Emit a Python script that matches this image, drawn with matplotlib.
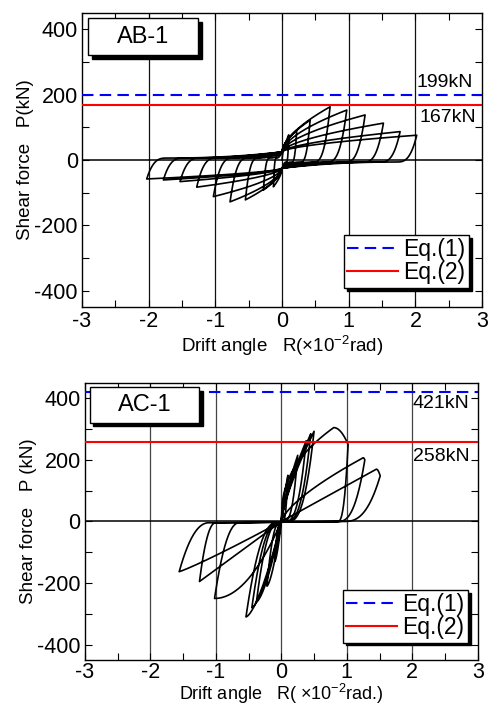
import numpy as np
import matplotlib
matplotlib.use('Agg')
import matplotlib.pyplot as plt
from matplotlib.patches import Rectangle

plt.rcParams['font.family'] = ['Liberation Sans', 'DejaVu Sans']
plt.rcParams['mathtext.fontset'] = 'custom'
plt.rcParams['mathtext.rm'] = 'Liberation Sans'
plt.rcParams['mathtext.it'] = 'Liberation Sans:italic'
plt.rcParams['axes.unicode_minus'] = False

# ---- AB-1 : cycle peaks (drift in 1e-2 rad, force in kN) ----
ab_pos_x = [0.10, 0.22, 0.42, 0.72, 0.97, 1.245, 1.52, 1.77, 2.02]
ab_pos_y = [77, 92, 122, 163, 153, 138, 113, 87, 76]
ab_neg_x = [-0.13, -0.28, -0.55, -0.78, -1.03, -1.28, -1.53, -1.78, -2.03]
ab_neg_y = [-82, -92, -122, -128, -112, -83, -66, -61, -58]
ab_cross = 25          # force where the loops cross R = 0
ab_eq = [199, 167]     # Eq.(1), Eq.(2)

# ---- AC-1 ----
ac_pos_x = [0.10, 0.25, 0.38, 0.45, 0.50, 0.80, 1.25, 1.45]
ac_pos_y = [150, 215, 262, 285, 293, 305, 207, 170]
ac_end_x = [0.10, 0.25, 0.38, 0.45, 0.50, 1.02, 1.275, 1.51]
ac_end_y = [150, 215, 262, 285, 293, 250, 200, 148]
ac_neg_x = [-0.10, -0.22, -0.38, -0.45, -0.54, -1.02, -1.25, -1.56]
ac_neg_y = [-130, -210, -261, -280, -310, -250, -195, -163]
ac_res_x = [0.02, 0.04, 0.06, 0.08, 0.10, 0.86, 0.86, 0.95]     # unloading reaches P = 0
ac_slip_x = [-0.02, -0.03, -0.05, -0.06, -0.08, -0.64, -1.0, -1.1]
ac_r1 = [1.5, 1.5, 1.5, 1.5, 1.5, 1.5, 2.0, 1.0]
ac_r2 = [0.75, 0.75, 0.75, 0.75, 0.75, 0.4, 0.7, 1.0]
ac_eq = [421, 258]


def seg(x0, y0, x1, y1, p, n=60):
    # p > 0: y follows t**p ; p < 0: fast start, y follows 1-(1-t)**|p|
    t = np.linspace(0, 1, n)
    f = t ** p if p > 0 else 1 - (1 - t) ** (-p)
    return list(x0 + (x1 - x0) * t), list(y0 + (y1 - y0) * f)


def ab_unload(xs, ys, x0, y0, c):
    # steep unloading, then a slow slip towards (0, c)
    s = np.sign(x0)
    du = min(0.3, 0.35 * abs(x0))
    a, b = seg(x0, y0, x0 - s * du, -s * 6, -3); xs += a; ys += b
    a, b = seg(x0 - s * du, -s * 6, 0, c, 2.2); xs += a; ys += b


def ab_path():
    xs, ys = [0.0], [0.0]
    for k in range(len(ab_pos_x)):
        if k > 0:
            ab_unload(xs, ys, ab_neg_x[k - 1], ab_neg_y[k - 1], ab_cross)
            a, b = seg(0, ab_cross, ab_pos_x[k], ab_pos_y[k], 0.6)
        else:
            a, b = seg(0, 0, ab_pos_x[k], ab_pos_y[k], 0.6)
        xs += a; ys += b
        ab_unload(xs, ys, ab_pos_x[k], ab_pos_y[k], -ab_cross)
        a, b = seg(0, -ab_cross, ab_neg_x[k], ab_neg_y[k], 0.6); xs += a; ys += b
    ab_unload(xs, ys, ab_neg_x[-1], ab_neg_y[-1], ab_cross)
    return xs, ys


def ac_path():
    xs, ys = [0.0], [0.0]
    px0, py0 = 0.0, 0.0
    for k in range(len(ac_pos_x)):
        if k > 0:
            a, b = seg(px0, py0, 0, 0, ac_r1[k]); xs += a; ys += b
        a, b = seg(0, 0, ac_pos_x[k], ac_pos_y[k], ac_r2[k]); xs += a; ys += b
        if ac_end_x[k] != ac_pos_x[k]:
            a, b = seg(ac_pos_x[k], ac_pos_y[k], ac_end_x[k], ac_end_y[k], 2); xs += a; ys += b
        a, b = seg(ac_end_x[k], ac_end_y[k], ac_res_x[k], 0, -2.7); xs += a; ys += b
        a, b = seg(ac_res_x[k], 0, ac_slip_x[k], -4, 1); xs += a; ys += b
        a, b = seg(ac_slip_x[k], -4, ac_neg_x[k], ac_neg_y[k], 2.2); xs += a; ys += b
        px0, py0 = ac_neg_x[k], ac_neg_y[k]
    a, b = seg(px0, py0, 0, 0, 1.1); xs += a; ys += b
    return xs, ys


def tag(ax, x0, y0, x1, y1, text):
    ax.add_patch(Rectangle((x0 + 0.009, y0 - 0.013), x1 - x0, y1 - y0, transform=ax.transAxes,
                           fc='k', ec='k', lw=1, zorder=5))
    ax.add_patch(Rectangle((x0, y0), x1 - x0, y1 - y0, transform=ax.transAxes,
                           fc='white', ec='k', lw=1, zorder=6))
    ax.text((x0 + x1) / 2, (y0 + y1) / 2, text, transform=ax.transAxes, ha='center',
            va='center', fontsize=17, zorder=7)


def style(ax, xlabel, ylabel, xlabelpad, gridcolor, xlabelsize=13.5, xpad=3):
    ax.set_xlim(-3, 3)
    ax.set_ylim(-450, 450)
    ax.set_xticks(range(-3, 4))
    ax.set_xticks(np.arange(-2.5, 3, 1.0), minor=True)
    ax.set_yticks([-400, -200, 0, 200, 400])
    ax.set_yticks([-300, -100, 100, 300], minor=True)
    ax.tick_params(which='both', direction='in', top=True, right=True, labelsize=15.5,
                   length=5, width=0.8, pad=3)
    ax.tick_params(axis='x', which='both', pad=xpad)
    for v in [-2, -1, 0, 1, 2]:
        ax.axvline(v, color=gridcolor, lw=0.9, zorder=1)
    ax.axhline(0, color='k', lw=1.1, zorder=1)
    for s in ax.spines.values():
        s.set_linewidth(1.0)
    ax.set_xlabel(xlabel, fontsize=xlabelsize, labelpad=xlabelpad)
    ax.set_ylabel(ylabel, fontsize=13.5, labelpad=0)


def legend(ax, anchor):
    leg = ax.legend(loc='lower right', bbox_to_anchor=anchor, fontsize=16.5, frameon=True,
                    fancybox=False, edgecolor='k', framealpha=1, borderaxespad=0,
                    handlelength=2.2, handletextpad=0.25, borderpad=0.15, labelspacing=0.0,
                    shadow={'color': 'k', 'alpha': 1})
    leg.get_frame().set_linewidth(1.0)
    leg.set_zorder(8)


fig = plt.figure(figsize=(4.88, 7.05), dpi=100)

# top panel: AB-1
ax1 = fig.add_axes([0.168, 0.5645, 0.820, 0.417])
x, y = ab_path()
ax1.plot(x, y, color='k', lw=1.2, zorder=3)
ax1.axhline(ab_eq[0], color='#0000ff', lw=1.5, ls=(0, (5.5, 3)), label='Eq.(1)', zorder=4)
ax1.axhline(ab_eq[1], color='#ff0000', lw=1.5, label='Eq.(2)', zorder=4)
ax1.text(2.02, 236, '%dkN' % ab_eq[0], fontsize=14, va='center', ha='left', zorder=4)
ax1.text(2.06, 129, '%dkN' % ab_eq[1], fontsize=14, va='center', ha='left', zorder=4)
style(ax1, r'Drift angle   R($\times$10$^{-2}$rad)', 'Shear force   P(kN)', 1, '#111111')
tag(ax1, 0.015, 0.857, 0.29, 0.983, 'AB-1')
legend(ax1, (0.9675, 0.065))

# bottom panel: AC-1
ax2 = fig.add_axes([0.174, 0.0638, 0.805, 0.393])
x, y = ac_path()
ax2.plot(x, y, color='k', lw=1.2, zorder=3)
ax2.axhline(ac_eq[0], color='#0000ff', lw=1.5, ls=(0, (5.5, 3)), label='Eq.(1)', zorder=4)
ax2.axhline(ac_eq[1], color='#ff0000', lw=1.5, label='Eq.(2)', zorder=4)
ax2.text(2.01, 384, '%dkN' % ac_eq[0], fontsize=14, va='center', ha='left', zorder=4)
ax2.text(2.01, 212, '%dkN' % ac_eq[1], fontsize=14, va='center', ha='left', zorder=4)
style(ax2, r'Drift angle   R( $\times$10$^{-2}$rad.)', 'Shear force   P (kN)', -1, '#444444',
      xlabelsize=13, xpad=1.5)
tag(ax2, 0.0127, 0.857, 0.291, 0.984, 'AC-1')
legend(ax2, (0.975, 0.0625))

fig.savefig('out.png', dpi=100)
